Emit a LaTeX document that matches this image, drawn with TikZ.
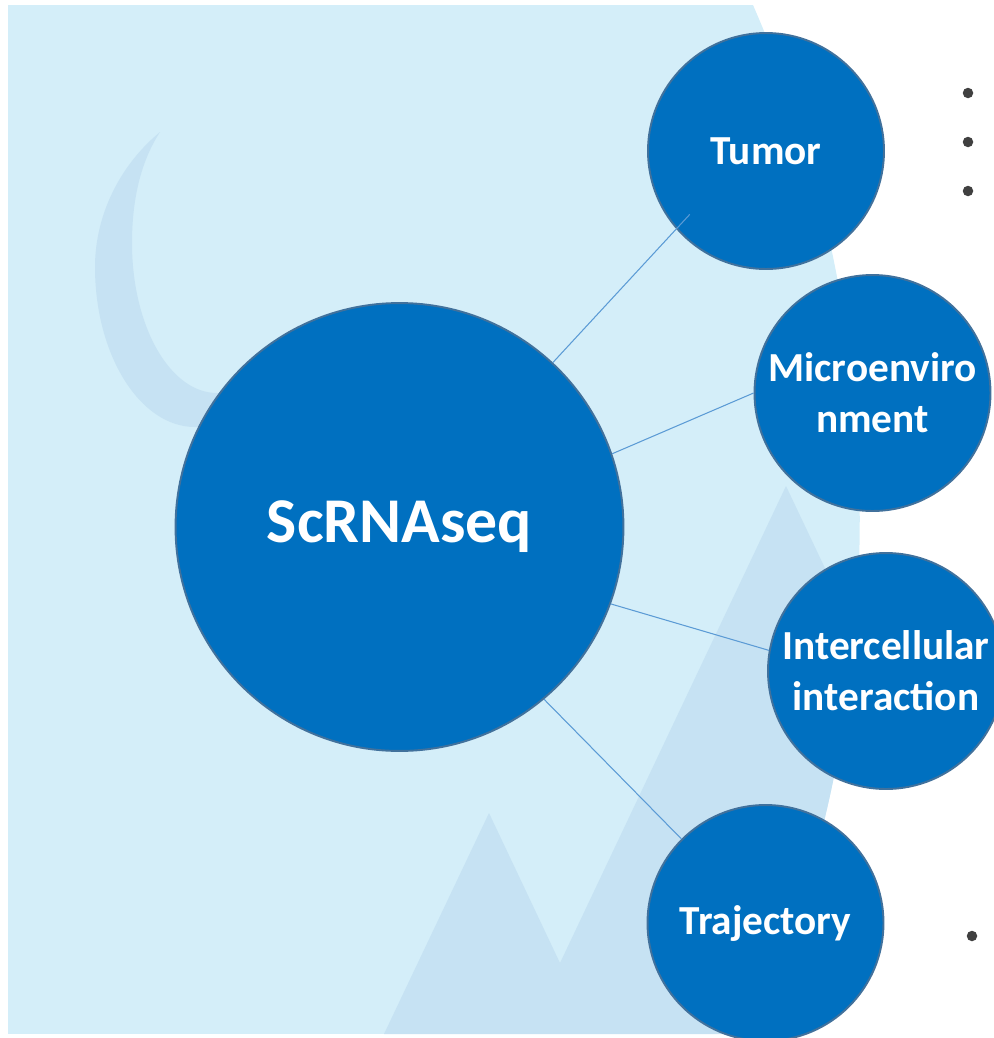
\documentclass[tikz,border=0pt]{standalone}
\usepackage{fontspec}
\setmainfont{Carlito}

\definecolor{skyblue}{HTML}{D4EEF9}
\definecolor{hillblue}{HTML}{C6E2F3}
\definecolor{nodeblue}{HTML}{0070C0}
\definecolor{rimblue}{HTML}{41719C}
\definecolor{linkblue}{HTML}{5B9BD5}
\definecolor{dotgray}{HTML}{404040}

\tikzset{
  bubble/.style={circle, fill=nodeblue, draw=rimblue, line width=1.1pt,
    text=white, align=center, inner sep=0pt, minimum size=4.72cm,
    font=\bfseries\fontsize{23.5}{28.9}\selectfont},
  link/.style={draw=linkblue, line width=0.6pt},
  hill/.style={fill=hillblue},
  bulletdot/.style={circle, fill=dotgray, inner sep=0pt, minimum size=0.21cm}
}

\begin{document}
\begin{tikzpicture}[x=0.02cm, y=-0.02cm]
  \useasboundingbox (0,0) rectangle (994,1038);
  \clip (0,0) rectangle (994,1038);

  % Draw backdrop with its rounded right side, and the two hills
  \begin{scope}
    \clip (-427,519) circle[radius=25.74cm];
    \fill[skyblue] (8,5) rectangle (994,1034);
    \fill[hill] (384,1034) -- (489,813) -- (560,963) -- (786,486) -- (1046,1034) -- cycle;
  \end{scope}

  % Draw crescent
  \fill[hill] (240,432) -- (195,427) .. controls (140,427) and (95,355) .. (95,267)
    .. controls (95,215) and (120,165) .. (160,132)
    .. controls (145,155) and (132,190) .. (132,243)
    .. controls (132,326) and (170,393) .. (217,393) -- (250,393) -- cycle;

  % Draw bubbles
  \node[bubble, minimum size=8.96cm, font=\bfseries\fontsize{36.3}{44}\selectfont] (scrna) at (399.5,527) {ScRNAseq};
  \node[bubble] (tumor) at (766,151) {Tumor};
  \node[bubble] (micro) at (872.5,393) {Microenviro\\nment};
  \node[bubble] (inter) at (886,671) {Intercellular\\interaction};
  \node[bubble] (traj) at (765.5,923) {Trajectory};

  % Draw links
  \draw[link, shorten >=-0.4cm] (scrna.47.4) -- (tumor.221);
  \draw[link] (scrna.19.4) -- (micro.west);
  \draw[link] (scrna.-20.2) -- (inter.170.7);
  \draw[link] (scrna.-50.5) -- (traj.north west);

  % Draw bullets
  \node[bulletdot] (t1) at (968,93) {};
  \node[bulletdot] (t2) at (968,142) {};
  \node[bulletdot] (t3) at (968,191) {};
  \node[bulletdot] (r1) at (972,936) {};
\end{tikzpicture}
\end{document}
